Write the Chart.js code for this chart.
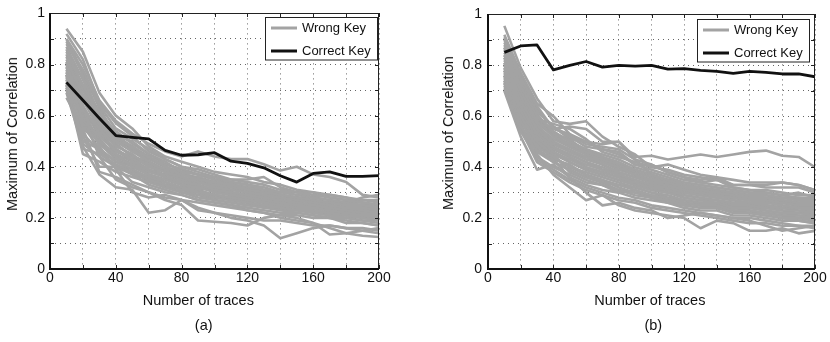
<!DOCTYPE html>
<html>
<head>
<meta charset="utf-8">
<script src="https://cdn.jsdelivr.net/npm/chart.js@4.4.0/dist/chart.umd.min.js"></script>
<style>
  body { margin: 0; background: #fff; }
  #figure {
    position: relative;
    width: 830px;
    height: 342px;
    overflow: hidden;
    font-family: "Liberation Sans", Arial, sans-serif;
    color: #111;
  }
  .panel { position: absolute; top: 0; width: 415px; height: 342px; }
  .caption {
    position: absolute;
    white-space: nowrap;
    font-size: 14.5px;
    transform: translate(-50%, -50%);
  }
  .caption.vertical { transform: translate(-50%, -50%) rotate(-90deg); }
</style>
</head>
<body>
<div id="figure">
  <canvas id="chartA" class="panel" width="415" height="342" style="left:0"></canvas>
  <canvas id="chartB" class="panel" width="415" height="342" style="left:415px"></canvas>

  <div class="caption vertical" style="left:11.7px;top:133.7px">Maximum of Correlation</div>
  <div class="caption" style="left:198.3px;top:299.5px">Number of traces</div>
  <div class="caption" style="left:203.7px;top:324.5px">(a)</div>

  <div class="caption vertical" style="left:447.8px;top:132.8px">Maximum of Correlation</div>
  <div class="caption" style="left:649.8px;top:299.5px">Number of traces</div>
  <div class="caption" style="left:653.3px;top:324.5px">(b)</div>
</div>

<script>
// Data

const traces = [10, 20, 30, 40, 50, 60, 70, 80, 90, 100, 110, 120, 130, 140, 150, 160, 170, 180, 190, 200];

const xTickLabels = [0, 40, 80, 120, 160, 200];
const yTickLabels = [0, 0.2, 0.4, 0.6, 0.8, 1];
const legendLabels = ['Wrong Key', 'Correct Key'];

const correctKeyA = [0.73, 0.66, 0.59, 0.522, 0.515, 0.509, 0.464, 0.445, 0.447, 0.455, 0.422, 0.413, 0.396, 0.365, 0.34, 0.374, 0.38, 0.362, 0.362, 0.365];
const correctKeyB = [0.851, 0.876, 0.88, 0.782, 0.80, 0.815, 0.793, 0.80, 0.797, 0.80, 0.785, 0.787, 0.78, 0.776, 0.768, 0.776, 0.772, 0.766, 0.766, 0.755];

const wrongKeysA = [
  [0.90, 0.80, 0.66, 0.58, 0.53, 0.49, 0.46, 0.44, 0.46, 0.44, 0.43, 0.43, 0.41, 0.385, 0.40, 0.37, 0.36, 0.34, 0.29, 0.28],
  [0.94, 0.85, 0.69, 0.60, 0.55, 0.48, 0.44, 0.42, 0.40, 0.38, 0.37, 0.36, 0.34, 0.33, 0.31, 0.30, 0.29, 0.28, 0.27, 0.27],
  [0.88, 0.78, 0.64, 0.55, 0.51, 0.47, 0.43, 0.40, 0.39, 0.37, 0.35, 0.35, 0.36, 0.32, 0.30, 0.29, 0.28, 0.27, 0.26, 0.25],
  [0.85, 0.72, 0.60, 0.52, 0.50, 0.45, 0.42, 0.38, 0.37, 0.36, 0.34, 0.33, 0.31, 0.30, 0.30, 0.28, 0.27, 0.26, 0.28, 0.29],
  [0.82, 0.68, 0.58, 0.50, 0.46, 0.44, 0.40, 0.37, 0.35, 0.34, 0.33, 0.31, 0.30, 0.29, 0.28, 0.27, 0.26, 0.25, 0.25, 0.24],
  [0.80, 0.62, 0.55, 0.48, 0.45, 0.40, 0.38, 0.36, 0.34, 0.32, 0.31, 0.30, 0.29, 0.28, 0.27, 0.26, 0.25, 0.24, 0.24, 0.23],
  [0.78, 0.58, 0.52, 0.46, 0.43, 0.41, 0.36, 0.34, 0.33, 0.31, 0.30, 0.29, 0.28, 0.27, 0.26, 0.25, 0.24, 0.24, 0.23, 0.22],
  [0.76, 0.55, 0.50, 0.45, 0.40, 0.37, 0.35, 0.33, 0.32, 0.30, 0.29, 0.28, 0.27, 0.26, 0.25, 0.25, 0.24, 0.23, 0.22, 0.22],
  [0.75, 0.50, 0.47, 0.42, 0.39, 0.36, 0.34, 0.32, 0.30, 0.29, 0.28, 0.27, 0.26, 0.25, 0.24, 0.24, 0.23, 0.22, 0.21, 0.21],
  [0.73, 0.47, 0.45, 0.41, 0.38, 0.35, 0.33, 0.31, 0.30, 0.28, 0.27, 0.26, 0.25, 0.24, 0.23, 0.23, 0.22, 0.21, 0.21, 0.20],
  [0.72, 0.45, 0.42, 0.38, 0.36, 0.34, 0.32, 0.30, 0.28, 0.27, 0.26, 0.25, 0.24, 0.23, 0.23, 0.22, 0.21, 0.21, 0.20, 0.19],
  [0.70, 0.52, 0.40, 0.40, 0.34, 0.32, 0.30, 0.29, 0.27, 0.26, 0.25, 0.24, 0.23, 0.22, 0.22, 0.21, 0.20, 0.20, 0.19, 0.18],
  [0.67, 0.55, 0.38, 0.36, 0.33, 0.30, 0.28, 0.27, 0.26, 0.25, 0.24, 0.23, 0.22, 0.21, 0.21, 0.20, 0.20, 0.19, 0.18, 0.17],
  [0.69, 0.48, 0.37, 0.32, 0.31, 0.22, 0.23, 0.27, 0.24, 0.22, 0.21, 0.20, 0.19, 0.19, 0.18, 0.17, 0.17, 0.16, 0.16, 0.15],
  [0.71, 0.60, 0.44, 0.35, 0.32, 0.30, 0.27, 0.25, 0.19, 0.185, 0.18, 0.17, 0.20, 0.21, 0.20, 0.18, 0.16, 0.14, 0.13, 0.125],
  [0.74, 0.63, 0.48, 0.39, 0.30, 0.28, 0.29, 0.27, 0.23, 0.22, 0.20, 0.19, 0.17, 0.12, 0.14, 0.16, 0.17, 0.16, 0.15, 0.14],
  [0.83, 0.75, 0.56, 0.44, 0.37, 0.33, 0.31, 0.29, 0.27, 0.26, 0.25, 0.23, 0.22, 0.20, 0.19, 0.18, 0.135, 0.14, 0.15, 0.16],
  [0.86, 0.70, 0.62, 0.53, 0.47, 0.42, 0.38, 0.35, 0.34, 0.33, 0.31, 0.30, 0.28, 0.27, 0.25, 0.24, 0.23, 0.22, 0.22, 0.21],
  [0.79, 0.66, 0.57, 0.49, 0.44, 0.42, 0.39, 0.37, 0.35, 0.33, 0.32, 0.31, 0.30, 0.29, 0.28, 0.27, 0.26, 0.26, 0.25, 0.24],
  [0.81, 0.64, 0.53, 0.47, 0.42, 0.39, 0.37, 0.35, 0.36, 0.33, 0.30, 0.28, 0.27, 0.28, 0.27, 0.26, 0.25, 0.24, 0.23, 0.23],
  [0.77, 0.60, 0.51, 0.44, 0.41, 0.38, 0.36, 0.33, 0.31, 0.32, 0.29, 0.27, 0.26, 0.25, 0.26, 0.24, 0.23, 0.22, 0.22, 0.20],
  [0.89, 0.76, 0.60, 0.51, 0.48, 0.43, 0.41, 0.39, 0.37, 0.35, 0.34, 0.33, 0.32, 0.30, 0.29, 0.28, 0.29, 0.28, 0.26, 0.25],
  [0.84, 0.67, 0.54, 0.46, 0.44, 0.40, 0.38, 0.36, 0.33, 0.31, 0.33, 0.32, 0.30, 0.28, 0.27, 0.26, 0.24, 0.23, 0.24, 0.25],
  [0.76, 0.57, 0.49, 0.43, 0.40, 0.37, 0.34, 0.31, 0.29, 0.28, 0.27, 0.26, 0.27, 0.26, 0.24, 0.22, 0.21, 0.20, 0.19, 0.19],
  [0.92, 0.82, 0.65, 0.57, 0.52, 0.46, 0.43, 0.40, 0.38, 0.36, 0.35, 0.34, 0.33, 0.31, 0.30, 0.30, 0.28, 0.27, 0.27, 0.26],
  [0.72, 0.53, 0.46, 0.40, 0.37, 0.35, 0.32, 0.30, 0.29, 0.27, 0.26, 0.25, 0.25, 0.23, 0.22, 0.21, 0.20, 0.18, 0.18, 0.17],
  [0.80, 0.70, 0.56, 0.50, 0.46, 0.42, 0.39, 0.36, 0.34, 0.32, 0.30, 0.29, 0.28, 0.27, 0.26, 0.25, 0.24, 0.23, 0.23, 0.22],
  [0.77, 0.63, 0.52, 0.47, 0.43, 0.39, 0.36, 0.34, 0.32, 0.31, 0.29, 0.28, 0.27, 0.26, 0.25, 0.24, 0.23, 0.23, 0.22, 0.21],
  [0.74, 0.59, 0.49, 0.44, 0.41, 0.37, 0.35, 0.33, 0.31, 0.29, 0.28, 0.27, 0.26, 0.25, 0.24, 0.23, 0.22, 0.22, 0.21, 0.20],
  [0.83, 0.71, 0.58, 0.51, 0.47, 0.43, 0.40, 0.38, 0.35, 0.34, 0.32, 0.31, 0.29, 0.28, 0.27, 0.27, 0.26, 0.25, 0.24, 0.24],
  [0.87, 0.74, 0.61, 0.54, 0.49, 0.45, 0.41, 0.39, 0.37, 0.35, 0.33, 0.32, 0.31, 0.29, 0.28, 0.28, 0.27, 0.26, 0.26, 0.25],
  [0.79, 0.61, 0.50, 0.45, 0.42, 0.38, 0.37, 0.35, 0.33, 0.30, 0.29, 0.29, 0.28, 0.26, 0.25, 0.24, 0.24, 0.24, 0.22, 0.22],
  [0.71, 0.49, 0.44, 0.40, 0.38, 0.36, 0.33, 0.31, 0.30, 0.29, 0.27, 0.26, 0.24, 0.24, 0.23, 0.22, 0.22, 0.21, 0.20, 0.20],
  [0.76, 0.56, 0.47, 0.42, 0.39, 0.34, 0.32, 0.32, 0.31, 0.28, 0.28, 0.26, 0.25, 0.25, 0.24, 0.23, 0.21, 0.20, 0.21, 0.21],
  [0.81, 0.66, 0.55, 0.49, 0.44, 0.41, 0.38, 0.35, 0.32, 0.31, 0.30, 0.28, 0.27, 0.26, 0.26, 0.25, 0.25, 0.24, 0.23, 0.22],
  [0.90, 0.77, 0.63, 0.52, 0.48, 0.44, 0.40, 0.37, 0.36, 0.34, 0.32, 0.30, 0.29, 0.29, 0.28, 0.26, 0.26, 0.25, 0.25, 0.24]
];

const wrongKeysB = [
  [0.90, 0.75, 0.64, 0.55, 0.56, 0.55, 0.50, 0.50, 0.44, 0.445, 0.43, 0.44, 0.45, 0.44, 0.45, 0.46, 0.465, 0.445, 0.44, 0.40],
  [0.955, 0.79, 0.67, 0.58, 0.57, 0.58, 0.52, 0.48, 0.45, 0.40, 0.41, 0.39, 0.37, 0.36, 0.35, 0.34, 0.34, 0.34, 0.33, 0.31],
  [0.92, 0.77, 0.65, 0.60, 0.53, 0.50, 0.49, 0.50, 0.43, 0.41, 0.38, 0.36, 0.35, 0.36, 0.33, 0.33, 0.32, 0.32, 0.32, 0.30],
  [0.88, 0.74, 0.62, 0.56, 0.52, 0.48, 0.47, 0.45, 0.41, 0.39, 0.37, 0.35, 0.34, 0.33, 0.32, 0.31, 0.31, 0.30, 0.29, 0.29],
  [0.86, 0.72, 0.60, 0.54, 0.50, 0.47, 0.45, 0.43, 0.40, 0.38, 0.36, 0.34, 0.33, 0.32, 0.31, 0.30, 0.30, 0.29, 0.28, 0.28],
  [0.84, 0.70, 0.58, 0.52, 0.49, 0.46, 0.44, 0.42, 0.39, 0.37, 0.35, 0.33, 0.32, 0.31, 0.30, 0.29, 0.29, 0.28, 0.27, 0.27],
  [0.82, 0.68, 0.57, 0.50, 0.47, 0.44, 0.42, 0.40, 0.37, 0.35, 0.34, 0.32, 0.31, 0.30, 0.29, 0.28, 0.28, 0.27, 0.26, 0.26],
  [0.80, 0.66, 0.55, 0.49, 0.46, 0.43, 0.41, 0.38, 0.36, 0.34, 0.33, 0.31, 0.30, 0.29, 0.28, 0.27, 0.27, 0.26, 0.25, 0.25],
  [0.79, 0.64, 0.53, 0.48, 0.44, 0.41, 0.39, 0.37, 0.35, 0.33, 0.32, 0.30, 0.29, 0.28, 0.27, 0.26, 0.26, 0.25, 0.24, 0.24],
  [0.78, 0.62, 0.52, 0.46, 0.43, 0.40, 0.38, 0.36, 0.34, 0.32, 0.31, 0.29, 0.28, 0.27, 0.26, 0.26, 0.25, 0.24, 0.24, 0.23],
  [0.76, 0.60, 0.50, 0.45, 0.42, 0.39, 0.37, 0.35, 0.33, 0.31, 0.30, 0.28, 0.27, 0.27, 0.25, 0.25, 0.24, 0.23, 0.23, 0.22],
  [0.75, 0.58, 0.48, 0.44, 0.40, 0.38, 0.36, 0.34, 0.32, 0.30, 0.29, 0.27, 0.26, 0.26, 0.24, 0.24, 0.23, 0.22, 0.22, 0.21],
  [0.74, 0.56, 0.46, 0.42, 0.39, 0.36, 0.34, 0.33, 0.31, 0.29, 0.28, 0.26, 0.25, 0.25, 0.23, 0.23, 0.22, 0.21, 0.21, 0.20],
  [0.72, 0.54, 0.44, 0.40, 0.37, 0.34, 0.33, 0.31, 0.29, 0.28, 0.27, 0.25, 0.24, 0.24, 0.22, 0.22, 0.21, 0.20, 0.20, 0.19],
  [0.70, 0.52, 0.39, 0.41, 0.36, 0.33, 0.31, 0.30, 0.28, 0.27, 0.26, 0.24, 0.23, 0.23, 0.21, 0.21, 0.20, 0.19, 0.19, 0.18],
  [0.73, 0.55, 0.42, 0.38, 0.34, 0.31, 0.29, 0.27, 0.26, 0.24, 0.23, 0.22, 0.21, 0.20, 0.19, 0.18, 0.18, 0.17, 0.17, 0.16],
  [0.77, 0.60, 0.45, 0.37, 0.32, 0.27, 0.29, 0.25, 0.23, 0.22, 0.21, 0.20, 0.16, 0.19, 0.18, 0.15, 0.15, 0.16, 0.14, 0.15],
  [0.81, 0.65, 0.50, 0.43, 0.36, 0.30, 0.25, 0.26, 0.24, 0.23, 0.20, 0.21, 0.22, 0.21, 0.20, 0.19, 0.17, 0.15, 0.16, 0.17],
  [0.85, 0.73, 0.59, 0.57, 0.55, 0.51, 0.46, 0.44, 0.42, 0.40, 0.39, 0.37, 0.36, 0.35, 0.33, 0.33, 0.33, 0.34, 0.33, 0.31],
  [0.87, 0.71, 0.61, 0.53, 0.51, 0.50, 0.47, 0.46, 0.41, 0.41, 0.38, 0.36, 0.34, 0.35, 0.32, 0.31, 0.30, 0.29, 0.30, 0.28],
  [0.83, 0.69, 0.56, 0.51, 0.48, 0.45, 0.43, 0.41, 0.38, 0.36, 0.35, 0.33, 0.32, 0.30, 0.30, 0.29, 0.28, 0.27, 0.26, 0.27],
  [0.80, 0.67, 0.54, 0.47, 0.45, 0.42, 0.40, 0.37, 0.34, 0.33, 0.31, 0.30, 0.30, 0.29, 0.28, 0.27, 0.26, 0.26, 0.25, 0.24],
  [0.91, 0.76, 0.63, 0.55, 0.53, 0.49, 0.48, 0.47, 0.43, 0.37, 0.35, 0.34, 0.33, 0.32, 0.31, 0.30, 0.29, 0.28, 0.28, 0.27],
  [0.76, 0.59, 0.47, 0.43, 0.41, 0.37, 0.35, 0.32, 0.30, 0.29, 0.27, 0.26, 0.25, 0.24, 0.23, 0.22, 0.21, 0.20, 0.19, 0.18],
  [0.78, 0.63, 0.51, 0.45, 0.38, 0.35, 0.33, 0.30, 0.31, 0.28, 0.26, 0.25, 0.26, 0.25, 0.24, 0.23, 0.22, 0.21, 0.20, 0.20],
  [0.71, 0.57, 0.43, 0.39, 0.35, 0.32, 0.30, 0.28, 0.27, 0.25, 0.24, 0.23, 0.22, 0.21, 0.20, 0.20, 0.19, 0.18, 0.17, 0.17],
  [0.83, 0.70, 0.58, 0.52, 0.48, 0.45, 0.42, 0.39, 0.37, 0.35, 0.33, 0.31, 0.30, 0.29, 0.28, 0.27, 0.26, 0.26, 0.25, 0.25],
  [0.79, 0.65, 0.54, 0.48, 0.45, 0.42, 0.39, 0.37, 0.35, 0.33, 0.31, 0.30, 0.29, 0.28, 0.27, 0.26, 0.25, 0.24, 0.24, 0.23],
  [0.76, 0.61, 0.51, 0.46, 0.42, 0.39, 0.37, 0.35, 0.33, 0.31, 0.30, 0.28, 0.27, 0.26, 0.25, 0.24, 0.24, 0.23, 0.22, 0.22],
  [0.87, 0.73, 0.60, 0.54, 0.50, 0.47, 0.44, 0.41, 0.39, 0.37, 0.35, 0.33, 0.32, 0.31, 0.30, 0.29, 0.28, 0.28, 0.27, 0.26],
  [0.81, 0.67, 0.56, 0.50, 0.46, 0.44, 0.41, 0.38, 0.36, 0.34, 0.32, 0.31, 0.30, 0.29, 0.28, 0.28, 0.27, 0.26, 0.26, 0.25],
  [0.74, 0.58, 0.49, 0.44, 0.40, 0.37, 0.35, 0.33, 0.32, 0.30, 0.28, 0.27, 0.26, 0.25, 0.24, 0.24, 0.23, 0.22, 0.21, 0.21],
  [0.89, 0.75, 0.62, 0.56, 0.51, 0.46, 0.43, 0.40, 0.38, 0.36, 0.34, 0.32, 0.31, 0.30, 0.29, 0.28, 0.27, 0.27, 0.26, 0.26],
  [0.78, 0.64, 0.53, 0.47, 0.44, 0.40, 0.38, 0.36, 0.33, 0.32, 0.30, 0.29, 0.28, 0.27, 0.26, 0.25, 0.25, 0.24, 0.23, 0.23],
  [0.84, 0.71, 0.59, 0.53, 0.49, 0.45, 0.43, 0.40, 0.37, 0.35, 0.33, 0.32, 0.31, 0.29, 0.29, 0.28, 0.27, 0.26, 0.25, 0.24],
  [0.73, 0.56, 0.47, 0.42, 0.39, 0.36, 0.34, 0.31, 0.30, 0.28, 0.27, 0.26, 0.25, 0.24, 0.23, 0.22, 0.22, 0.21, 0.20, 0.19]
];



// Styling

const FONT = '"Liberation Sans", Arial, sans-serif';
const GREY = '#a3a3a3';
const BLACK = '#111';

function toPoints(values) {
  return values.map((v, i) => ({ x: traces[i], y: v }));
}



// Axes box with inward tick marks (drawn over the traces)

const axesBox = {
  id: 'axesBox',
  afterDatasetsDraw(chart) {
    const { ctx, chartArea: a, scales } = chart;
    const left = Math.round(a.left), right = Math.round(a.right);
    const top = Math.round(a.top), bottom = Math.round(a.bottom);

    ctx.save();
    ctx.strokeStyle = '#222';
    ctx.lineWidth = 1;
    ctx.beginPath();
    scales.x.ticks.forEach(t => {
      const px = Math.round(scales.x.getPixelForValue(t.value)) + 0.5;
      ctx.moveTo(px, bottom); ctx.lineTo(px, bottom - 4);
      ctx.moveTo(px, top); ctx.lineTo(px, top + 4);
    });
    scales.y.ticks.forEach(t => {
      const py = Math.round(scales.y.getPixelForValue(t.value)) + 0.5;
      ctx.moveTo(left, py); ctx.lineTo(left + 4, py);
      ctx.moveTo(right, py); ctx.lineTo(right - 4, py);
    });
    ctx.stroke();

    ctx.beginPath();
    ctx.moveTo(left, top + 0.5); ctx.lineTo(right, top + 0.5);
    ctx.moveTo(right - 0.5, top); ctx.lineTo(right - 0.5, bottom);
    ctx.stroke();

    ctx.strokeStyle = BLACK;
    ctx.lineWidth = 2;
    ctx.beginPath();
    ctx.moveTo(left, top); ctx.lineTo(left, bottom);
    ctx.lineTo(right, bottom);
    ctx.stroke();
    ctx.restore();
  }
};



// Legend box in the upper right corner

const keyBox = {
  id: 'keyBox',
  afterDraw(chart, args, opts) {
    const { ctx, chartArea } = chart;
    const w = 113, h = 43.5;
    const left = Math.round(chartArea.right - opts.gap - w);
    const top = Math.round(chartArea.top + opts.top);

    ctx.save();
    ctx.fillStyle = '#fff';
    ctx.fillRect(left, top, w, h);
    ctx.strokeStyle = '#222';
    ctx.lineWidth = 1;
    ctx.strokeRect(left + 0.5, top + 0.5, w - 1, h - 1);

    ctx.font = '13px ' + FONT;
    ctx.textBaseline = 'middle';
    legendLabels.forEach((label, i) => {
      const ds = chart.data.datasets.find(d => d.label === label);
      const y = top + 11 + i * 23;
      ctx.strokeStyle = ds.borderColor;
      ctx.lineWidth = 3;
      ctx.beginPath();
      ctx.moveTo(left + 6, y);
      ctx.lineTo(left + 32, y);
      ctx.stroke();
      ctx.fillStyle = BLACK;
      ctx.fillText(label, left + 37, y + 0.5);
    });
    ctx.restore();
  }
};



// Panel factory

function makePanel(id, wrongKeys, correctKey, frame) {
  const datasets = [{
    label: 'Correct Key',
    data: toPoints(correctKey),
    borderColor: BLACK,
    borderWidth: 2.8
  }];
  wrongKeys.forEach(row => {
    datasets.push({
      label: 'Wrong Key',
      data: toPoints(row),
      borderColor: GREY,
      borderWidth: 2.6
    });
  });

  const tickFont = { family: FONT, size: 14 };

  return new Chart(document.getElementById(id), {
    type: 'line',
    data: { datasets },
    plugins: [axesBox, keyBox],
    options: {
      responsive: false,
      animation: false,
      events: [],
      elements: {
        point: { radius: 0 },
        line: { tension: 0, borderJoinStyle: 'round', fill: false }
      },
      layout: { padding: { left: 0, top: 9, right: frame.right, bottom: 0 } },
      plugins: {
        legend: { display: false },
        tooltip: { enabled: false },
        keyBox: { gap: frame.keyGap, top: frame.keyTop }
      },
      scales: {
        x: {
          type: 'linear',
          min: 0,
          max: 200,
          afterFit: s => { s.height = 73; },
          ticks: {
            stepSize: 20,
            autoSkip: false,
            maxRotation: 0,
            padding: 1,
            color: BLACK,
            font: tickFont,
            callback: v => (xTickLabels.includes(v) ? String(v) : '')
          },
          grid: { color: '#666', lineWidth: 1, drawTicks: false },
          border: { display: false, dash: [1, 4] }
        },
        y: {
          min: 0,
          max: 1,
          afterFit: s => { s.width = frame.axisWidth; },
          ticks: {
            stepSize: 0.1,
            autoSkip: false,
            padding: frame.tickPad,
            color: BLACK,
            font: tickFont,
            callback: v => {
              const r = Math.round(v * 10) / 10;
              return yTickLabels.includes(r) ? String(r) : '';
            }
          },
          grid: { color: '#666', lineWidth: 1, drawTicks: false },
          border: { display: false, dash: [1, 4] }
        }
      }
    }
  });
}

const chartA = makePanel('chartA', wrongKeysA, correctKeyA, { axisWidth: 50, right: 36, tickPad: 5, keyGap: 1.5, keyTop: 4 });
const chartB = makePanel('chartB', wrongKeysB, correctKeyB, { axisWidth: 73, right: 15, tickPad: 6, keyGap: 5, keyTop: 5 });
</script>
</body>
</html>
